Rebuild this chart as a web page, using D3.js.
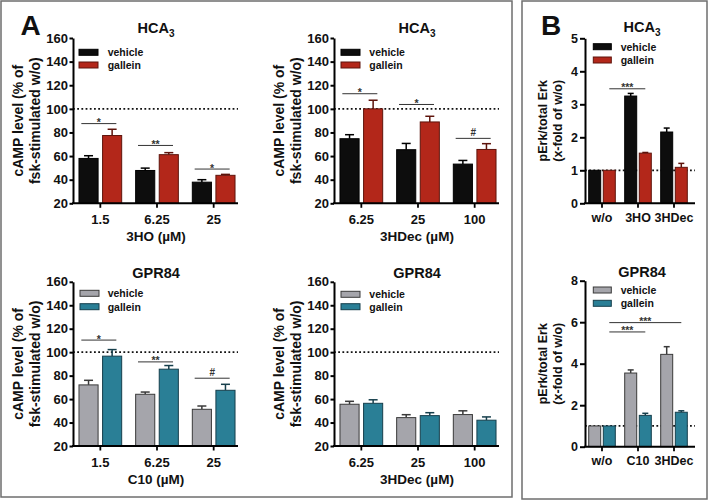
<!DOCTYPE html>
<html><head><meta charset="utf-8">
<script src="https://cdn.jsdelivr.net/npm/d3@7"></script>
<style>
body{margin:0;background:#fff}
svg{display:block}
text{font-family:"Liberation Sans",Arial,sans-serif;font-weight:bold;fill:#111}
</style>
</head><body>
<svg id="c" width="709" height="502"></svg>
<script>
// ---------------- data ----------------
const series = ["vehicle", "gallein"];

// Panel A, HCA3, 3HO
const hoDoses = ["1.5", "6.25", "25"];
const hoVehicle = [58.0, 47.8, 37.9];
const hoVehicleErr = [2.3, 2.0, 2.1];
const hoGallein = [77.4, 61.2, 43.7];
const hoGalleinErr = [5.3, 1.7, 0.8];
const hoSig = [["1.5", 87.5, "*"], ["6.25", 69.0, "**"], ["25", 49.0, "*"]];

// Panel A, HCA3, 3HDec
const hdecDoses = ["6.25", "25", "100"];
const hdecHcaVehicle = [74.7, 65.4, 53.2];
const hdecHcaVehicleErr = [3.4, 5.3, 3.1];
const hdecHcaGallein = [100.0, 88.9, 65.6];
const hdecHcaGalleinErr = [7.3, 4.8, 4.9];
const hdecHcaSig = [["6.25", 112.8, "*"], ["25", 103.7, "*"], ["100", 75.0, "#"]];

// Panel A, GPR84, C10
const c10Doses = ["1.5", "6.25", "25"];
const c10Vehicle = [72.1, 64.1, 51.3];
const c10VehicleErr = [3.9, 1.9, 2.8];
const c10Gallein = [96.6, 85.5, 67.5];
const c10GalleinErr = [5.6, 3.1, 5.1];
const c10Sig = [["1.5", 110.3, "*"], ["6.25", 91.7, "**"], ["25", 77.8, "#"]];

// Panel A, GPR84, 3HDec
const hdecGprVehicle = [55.6, 44.2, 46.8];
const hdecGprVehicleErr = [2.5, 2.5, 3.2];
const hdecGprGallein = [56.4, 45.9, 42.0];
const hdecGprGalleinErr = [3.0, 2.5, 2.8];

const campTicks = [20, 40, 60, 80, 100, 120, 140, 160];

// Panel B, HCA3
const erkHcaCats = ["w/o", "3HO", "3HDec"];
const erkHcaVehicle = [1.0, 3.25, 2.16];
const erkHcaVehicleErr = [0, 0.08, 0.12];
const erkHcaGallein = [1.0, 1.52, 1.09];
const erkHcaGalleinErr = [0, 0.02, 0.12];
const erkHcaTicks = [0, 1, 2, 3, 4, 5];
const erkHcaSig = [["w/o", "3HO", 3.47, "***"]];

// Panel B, GPR84
const erkGprCats = ["w/o", "C10", "3HDec"];
const erkGprVehicle = [1.0, 3.55, 4.45];
const erkGprVehicleErr = [0, 0.15, 0.37];
const erkGprGallein = [1.0, 1.51, 1.66];
const erkGprGalleinErr = [0, 0.10, 0.07];
const erkGprTicks = [0, 2, 4, 6, 8];
const erkGprSig = [["w/o", "C10", 5.53, "***"], ["w/o", "3HDec", 5.98, "***"]];

// ---------------- styles ----------------
const HCA_FILL = ["#0d0d0d", "#b3271a"];
const HCA_STROKE = ["#000000", "#5e140c"];
const GPR_FILL = ["#a5a5ab", "#2a7f96"];
const GPR_STROKE = ["#3a3a3a", "#163f4c"];

const svg = d3.select("#c");

// panel frames
svg.append("rect").attr("x", 1).attr("y", 1).attr("width", 511).attr("height", 496)
  .attr("fill", "none").attr("stroke", "#6e6e6e").attr("stroke-width", 1.5);
svg.append("rect").attr("x", 522).attr("y", 1).attr("width", 185).attr("height", 498)
  .attr("fill", "none").attr("stroke", "#6e6e6e").attr("stroke-width", 1.5);
svg.append("text").attr("x", 20.5).attr("y", 35).attr("font-size", 28).text("A");
svg.append("text").attr("x", 541).attr("y", 35).attr("font-size", 28).text("B");

function drawChart(o) {
  const g = svg.append("g");
  const y = d3.scaleLinear().domain(o.yDomain).range([o.yBot, o.yTop]);
  const x = d3.scaleBand().domain(o.cats).range(o.xRange);
  const xi = d3.scaleBand().domain(series).range([-o.half, o.half]).paddingInner(o.pad);
  const bx = (c, s) => x(c) + x.bandwidth() / 2 + xi(s);
  const cx = (c, s) => bx(c, s) + xi.bandwidth() / 2;

  // reference dotted line
  g.append("line").attr("x1", o.x0).attr("x2", o.xEnd)
    .attr("y1", y(o.ref)).attr("y2", y(o.ref))
    .attr("stroke", "#111").attr("stroke-width", 1.8).attr("stroke-dasharray", "1.8,2.4");

  // bars + error bars
  series.forEach((s, si) => {
    const data = o.cats.map((c, i) => ({c, v: o.vals[si][i], e: o.errs[si][i]}));
    const bg = g.append("g");
    bg.selectAll("line.err").data(data.filter(d => d.e > 0)).enter().append("line")
      .attr("x1", d => cx(d.c, s)).attr("x2", d => cx(d.c, s))
      .attr("y1", d => y(d.v)).attr("y2", d => y(d.v + d.e))
      .attr("stroke", o.stroke[si]).attr("stroke-width", 1.5);
    bg.selectAll("line.cap").data(data.filter(d => d.e > 0)).enter().append("line")
      .attr("x1", d => cx(d.c, s) - o.cap / 2).attr("x2", d => cx(d.c, s) + o.cap / 2)
      .attr("y1", d => y(d.v + d.e)).attr("y2", d => y(d.v + d.e))
      .attr("stroke", o.stroke[si]).attr("stroke-width", 1.5);
    bg.selectAll("rect").data(data).enter().append("rect")
      .attr("x", d => bx(d.c, s)).attr("width", xi.bandwidth())
      .attr("y", d => y(d.v)).attr("height", d => y(o.yDomain[0]) - y(d.v))
      .attr("fill", o.fill[si]).attr("stroke", o.stroke[si]).attr("stroke-width", 1);
  });

  // significance
  (o.sig || []).forEach(sg => {
    let x1, x2, v, lab;
    if (sg.length === 3) {
      const c = x(sg[0]) + x.bandwidth() / 2;
      x1 = c - 19; x2 = c + 16; v = sg[1]; lab = sg[2];
    } else {
      x1 = cx(sg[0], "gallein"); x2 = cx(sg[1], "gallein"); v = sg[2]; lab = sg[3];
    }
    g.append("line").attr("x1", x1).attr("x2", x2).attr("y1", y(v)).attr("y2", y(v))
      .attr("stroke", "#333").attr("stroke-width", 1);
    g.append("text").attr("x", (x1 + x2) / 2).attr("y", y(v) + (lab === "#" ? -2 : 2.5))
      .attr("text-anchor", "middle").attr("font-size", lab === "#" ? 10 : 10.5)
      .attr("font-weight", lab === "#" ? "normal" : "bold")
      .style("fill", "#333").text(lab);
  });

  // y axis
  const ya = g.append("g").attr("transform", `translate(${o.x0},0)`)
    .call(d3.axisLeft(y).tickValues(o.ticks).tickFormat(d3.format("d"))
      .tickSize(o.tick).tickSizeOuter(0).tickPadding(o.tpad));
  ya.select(".domain").attr("stroke", "#000").attr("stroke-width", 2);
  ya.selectAll(".tick line").attr("stroke", "#000").attr("stroke-width", 2);
  ya.selectAll(".tick text").attr("font-size", o.tfs).style("font-family", '"Liberation Sans",Arial,sans-serif')
    .style("font-weight", "bold").attr("fill", "#111");

  // x axis
  g.append("line").attr("x1", o.x0 - 1).attr("x2", o.xEnd).attr("y1", o.yBot).attr("y2", o.yBot)
    .attr("stroke", "#000").attr("stroke-width", 2);
  const xa = g.append("g").attr("transform", `translate(0,${o.yBot})`)
    .call(d3.axisBottom(x).tickSize(4.5).tickSizeOuter(0).tickPadding(3));
  xa.select(".domain").remove();
  xa.selectAll(".tick line").attr("stroke", "#000").attr("stroke-width", 1.8);
  xa.selectAll(".tick text").attr("font-size", o.tfs).attr("dy", null).attr("y", o.xlabDy)
    .style("font-family", '"Liberation Sans",Arial,sans-serif').style("font-weight", "bold").attr("fill", "#111");

  // titles
  const t = g.append("text").attr("x", o.titleX).attr("y", o.titleY).attr("text-anchor", "middle")
    .attr("font-size", 14.5).text(o.title);
  if (o.sub) {
    t.append("tspan").attr("font-size", 10).attr("dy", 4).text(o.sub);
  }
  if (o.xTitle) {
    g.append("text").attr("x", o.titleX).attr("y", o.yBot + 38).attr("text-anchor", "middle")
      .attr("font-size", 13.5).text(o.xTitle);
  }
  const yc = (o.yBot + o.yTop) / 2;
  o.yLabel.forEach((ln, i) => {
    g.append("text").attr("transform", `translate(${o.x0 + o.ylx[i]},${yc}) rotate(-90)`)
      .attr("text-anchor", "middle").attr("dominant-baseline", "central")
      .attr("font-size", o.ylfs).text(ln);
  });

  // legend
  series.forEach((s, si) => {
    g.append("rect").attr("x", o.legX).attr("y", o.legY[si] - 3).attr("width", o.legW).attr("height", 6)
      .attr("fill", o.fill[si]).attr("stroke", o.stroke[si]).attr("stroke-width", 1);
    g.append("text").attr("x", o.legTX).attr("y", o.legY[si] + 4).attr("font-size", 10.5).text(s);
  });
}

const campLabel = ["cAMP level (% of", "fsk-stimulated w/o)"];
const commonA = {yDomain: [20, 160], ticks: campTicks, ref: 100, half: 21.35, pad: 0.19, cap: 9,
  tick: 3.5, tpad: 1.5, tfs: 13, xlabDy: 20.7, ylx: [-55, -38], ylfs: 14, legW: 19};

drawChart(Object.assign({}, commonA, {
  x0: 73, xEnd: 238, yBot: 203.3, yTop: 38, xRange: [72, 242], cats: hoDoses,
  vals: [hoVehicle, hoGallein], errs: [hoVehicleErr, hoGalleinErr], sig: hoSig,
  fill: HCA_FILL, stroke: HCA_STROKE, title: "HCA", sub: "3", titleX: 156, titleY: 33.3,
  xTitle: "3HO (µM)", yLabel: campLabel, legX: 79, legTX: 107.7, legY: [52.3, 65]
}));
drawChart(Object.assign({}, commonA, {
  x0: 334, xEnd: 499, yBot: 203.3, yTop: 38, xRange: [333, 503], cats: hdecDoses,
  vals: [hdecHcaVehicle, hdecHcaGallein], errs: [hdecHcaVehicleErr, hdecHcaGalleinErr], sig: hdecHcaSig,
  fill: HCA_FILL, stroke: HCA_STROKE, title: "HCA", sub: "3", titleX: 417, titleY: 33.3,
  xTitle: "3HDec (µM)", yLabel: campLabel, legX: 341, legTX: 369.3, legY: [52.3, 65]
}));
drawChart(Object.assign({}, commonA, {
  x0: 73, xEnd: 238, yBot: 446, yTop: 281.8, xRange: [72, 242], cats: c10Doses,
  vals: [c10Vehicle, c10Gallein], errs: [c10VehicleErr, c10GalleinErr], sig: c10Sig,
  fill: GPR_FILL, stroke: GPR_STROKE, title: "GPR84", titleX: 156, titleY: 277.5,
  xTitle: "C10 (µM)", yLabel: campLabel, legX: 80, legTX: 107.7, legY: [293.3, 306.7]
}));
drawChart(Object.assign({}, commonA, {
  x0: 334, xEnd: 499, yBot: 446, yTop: 281.8, xRange: [333, 503], cats: hdecDoses,
  vals: [hdecGprVehicle, hdecGprGallein], errs: [hdecGprVehicleErr, hdecGprGalleinErr], sig: [],
  fill: GPR_FILL, stroke: GPR_STROKE, title: "GPR84", titleX: 417, titleY: 278,
  xTitle: "3HDec (µM)", yLabel: campLabel, legX: 341, legTX: 369.3, legY: [294.3, 306.7]
}));

const erkLabel = ["pErk/total Erk", "(x-fold of w/o)"];
const commonB = {ref: 1, half: 13.3, pad: 0.178, cap: 6, tick: 5, tpad: 2, tfs: 12.5,
  ylx: [-42, -27], ylfs: 12.5, legW: 18, x0: 585, xEnd: 695, xRange: [584, 692], titleX: 642};

drawChart(Object.assign({}, commonB, {
  yDomain: [0, 5], ticks: erkHcaTicks, yBot: 203.3, yTop: 38.3, cats: erkHcaCats, xlabDy: 19,
  vals: [erkHcaVehicle, erkHcaGallein], errs: [erkHcaVehicleErr, erkHcaGalleinErr], sig: erkHcaSig,
  fill: HCA_FILL, stroke: HCA_STROKE, title: "HCA", sub: "3", titleY: 32,
  yLabel: erkLabel, legX: 593.3, legTX: 620.7, legY: [46.7, 60]
}));
drawChart(Object.assign({}, commonB, {
  yDomain: [0, 8], ticks: erkGprTicks, yBot: 446.7, yTop: 280.7, cats: erkGprCats, xlabDy: 18,
  vals: [erkGprVehicle, erkGprGallein], errs: [erkGprVehicleErr, erkGprGalleinErr], sig: erkGprSig,
  fill: GPR_FILL, stroke: GPR_STROKE, title: "GPR84", titleY: 277,
  yLabel: erkLabel, legX: 593.3, legTX: 620.7, legY: [290, 303.3]
}));
</script>
</body></html>
